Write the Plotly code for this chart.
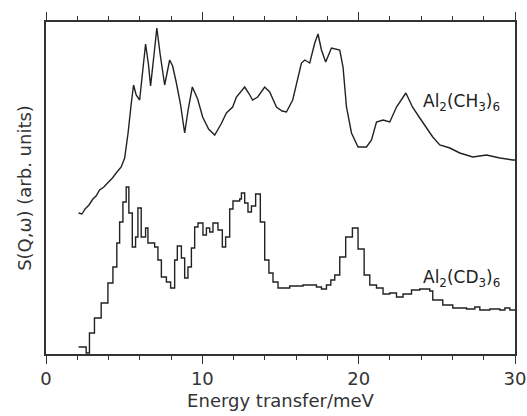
import plotly.graph_objects as go

# Al2(CH3)6 spectrum (energy transfer meV, S(Q,w) arb. units)
ch3_energy = [2.08, 2.3, 2.5, 2.75, 3.0, 3.2, 3.43, 3.7, 4.0, 4.25, 4.49, 4.81, 5.03, 5.25, 5.45,
              5.60, 5.77, 5.99, 6.2, 6.37, 6.55, 6.69, 6.9, 7.09, 7.3, 7.59, 7.91, 8.1, 8.34, 8.6,
              8.87, 9.1, 9.36, 9.7, 10.02, 10.4, 10.79, 11.2, 11.54, 11.94, 12.18, 12.71,
              13.0, 13.22, 13.54, 13.99, 14.31, 14.74, 15.1, 15.38, 15.78, 16.1, 16.34, 16.55,
              16.87, 17.19, 17.40, 17.62, 17.89, 18.26, 18.79, 19.00, 19.22, 19.54, 19.96,
              20.50, 20.82, 21.14, 21.56, 21.99, 22.42, 23.02, 23.44, 23.91, 24.51, 24.74,
              25.19, 25.83, 26.47, 27.30, 28.18, 29.03, 29.87, 30.0]
ch3_signal = [1.41, 1.40, 1.45, 1.49, 1.55, 1.58, 1.64, 1.67, 1.72, 1.76, 1.81, 1.87, 1.96, 2.21, 2.50,
              2.69, 2.59, 2.54, 2.85, 3.10, 2.90, 2.68, 2.98, 3.26, 3.00, 2.69, 2.94, 2.88, 2.71, 2.50,
              2.21, 2.45, 2.67, 2.55, 2.37, 2.25, 2.19, 2.30, 2.41, 2.47, 2.57, 2.67,
              2.60, 2.54, 2.57, 2.67, 2.62, 2.47, 2.43, 2.42, 2.54, 2.75, 2.91, 2.94,
              2.91, 3.11, 3.20, 3.04, 2.92, 3.06, 3.04, 2.87, 2.47, 2.21, 2.07,
              2.07, 2.14, 2.32, 2.34, 2.32, 2.47, 2.61, 2.47, 2.36, 2.22, 2.17,
              2.09, 2.06, 2.01, 1.97, 1.99, 1.96, 1.94, 1.94]

# Al2(CD3)6 histogram (bin left edges, values)
cd3_energy = [2.08, 2.57, 2.78, 3.10, 3.53, 3.96, 4.28, 4.53, 4.71, 4.92, 5.13, 5.30, 5.52, 5.73,
              5.88, 6.09, 6.37, 6.52, 6.95, 7.16, 7.38, 7.70, 7.97, 8.23, 8.40, 8.66, 8.87,
              9.08, 9.30, 9.51, 9.72, 10.04, 10.26, 10.47, 10.68, 11.00, 11.28, 11.49, 11.75,
              11.96, 12.39, 12.50, 12.71, 12.92, 13.14, 13.41, 13.71, 13.99, 14.26, 14.52,
              14.84, 15.59, 16.44, 17.30, 17.62, 17.94, 18.22, 18.47, 18.79, 19.17, 19.60,
              19.96, 20.35, 20.71, 21.14, 21.56, 21.99, 22.42, 22.84, 23.38, 23.91, 24.55,
              24.74, 25.38, 26.02, 26.90, 27.43, 27.75, 28.39, 29.03, 29.35, 29.67, 30.0]
cd3_signal = [0.07, 0.01, 0.21, 0.36, 0.51, 0.71, 0.87, 1.11, 1.32, 1.52, 1.67, 1.41, 1.07, 1.17,
              1.46, 1.17, 1.26, 1.11, 1.07, 0.94, 0.77, 0.72, 0.66, 0.94, 1.08, 0.96, 0.76,
              0.87, 1.06, 1.27, 1.31, 1.19, 1.26, 1.22, 1.31, 1.24, 1.07, 1.17, 1.45,
              1.53, 1.55, 1.61, 1.51, 1.42, 1.48, 1.60, 1.32, 0.94, 0.81, 0.72,
              0.66, 0.68, 0.69, 0.67, 0.65, 0.69, 0.74, 0.79, 0.97, 1.17, 1.26,
              1.05, 0.79, 0.69, 0.66, 0.60, 0.61, 0.57, 0.60, 0.64, 0.65, 0.63,
              0.54, 0.49, 0.46, 0.45, 0.47, 0.44, 0.45, 0.44, 0.46, 0.44, 0.44]

labels = ["Al<sub>2</sub>(CH<sub>3</sub>)<sub>6</sub>", "Al<sub>2</sub>(CD<sub>3</sub>)<sub>6</sub>"]
label_x = [24.0, 24.0]
label_y = [2.52, 0.76]

line_col = "#222222"
font = "DejaVu Sans"

fig = go.Figure()
fig.add_trace(go.Scatter(x=ch3_energy, y=ch3_signal, mode="lines",
                         line=dict(color=line_col, width=1.4), showlegend=False))
fig.add_trace(go.Scatter(x=cd3_energy, y=cd3_signal, mode="lines", line_shape="hv",
                         line=dict(color=line_col, width=1.4), showlegend=False))

for t, x, y in zip(labels, label_x, label_y):
    fig.add_annotation(x=x, y=y, text=t, showarrow=False, xanchor="left", yanchor="middle",
                       font=dict(family=font, size=17, color="#222"))

fig.update_layout(
    width=527, height=416,
    margin=dict(l=46, r=12, t=22, b=62, autoexpand=False),
    paper_bgcolor="white", plot_bgcolor="white",
    font=dict(family=font, color="#333"),
)
fig.update_xaxes(
    range=[0, 30], tickvals=[0, 10, 20, 30], ticks="outside", ticklen=8, tickwidth=1.2,
    tickcolor="#333", showline=True, linecolor="#333", linewidth=1.5, mirror="ticks",
    showgrid=False, zeroline=False, automargin=False,
    tickfont=dict(size=18, family=font, color="#333"),
    minor=dict(dtick=2, ticks="outside", ticklen=4, tickwidth=1.2, tickcolor="#333", showgrid=False),
    title=dict(text="Energy transfer/meV", font=dict(size=18, family=font, color="#333"), standoff=6),
)
fig.update_yaxes(
    range=[0, 3.32], showticklabels=False, ticks="", showline=True, linecolor="#333",
    linewidth=1.5, mirror=True, showgrid=False, zeroline=False, automargin=False,
    title=dict(text="S(Q,ω) (arb. units)", font=dict(size=18, family=font, color="#333"), standoff=8),
)

fig.write_html("out.html")
